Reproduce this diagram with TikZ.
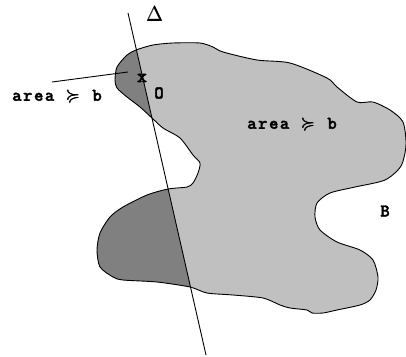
\documentclass[tikz,border=0pt]{standalone}
\usepackage{amsmath, amssymb}
\usepackage{fontspec}
\usepackage{xcolor}
\newfontfamily\labelfont[Extension=.otf, LetterSpace=8, FakeBold=2]{lmmonolt10-bold}
\usetikzlibrary{calc}
\definecolor{blobgray}{HTML}{C0C0C0}
\definecolor{cutgray}{HTML}{808080}
\newcommand{\geqsym}{\makebox[0.9em]{\pmb{$\succcurlyeq$}}}

\begin{document}
\begin{tikzpicture}[x=1pt, y=-1pt,
    every node/.style={font=\labelfont\fontsize{18}{18}\selectfont, inner sep=1pt},
    outline/.style={line width=0.9pt, line join=round}]
        \useasboundingbox (0,0) rectangle (406,356);
        % The region, traced clockwise from where the line meets its top edge
        \def\blob{plot[smooth cycle, tension=0.45] coordinates {
          (136,50) (153,45) (173,43) (200,43) (213,47) (223,52) (257,60) (290,63)
          (327,78) (337,87) (357,102) (373,102) (390,110) (403,122) (406,145)
          (401,166) (385,180) (355,187) (330,193) (317,203) (315,217) (320,230)
          (337,242) (360,250) (373,260) (378,277) (376,290) (370,300) (360,305)
          (337,310) (323,313) (312,313) (307,310) (290,308) (280,305) (263,298)
          (233,295) (207,293) (190,287) (157,282) (123,280) (113,277) (100,267)
          (97,250) (100,233) (110,217) (123,207) (147,195) (168,189) (187,187)
          (193,183) (198,173) (200,163) (193,155) (180,138) (163,128) (152,118)
          (140,107) (127,97) (117,88) (115,80) (117,67) (127,55)}}
        \fill[blobgray] \blob;
        % Part cut off on the left of the line
        \begin{scope}
          \clip (102,-100) -- (230,460) -- (-100,460) -- (-100,-100) -- cycle;
          \fill[cutgray] \blob;
        \end{scope}
        \draw[outline] \blob;
        % The line Delta
        \coordinate (lntop) at (128,13);
        \coordinate (lnbot) at (206,355);
        \draw[line width=0.9pt] (lntop) -- (lnbot);
        \node[font=\fontsize{20}{20}\selectfont] (delta) at (155,14) {\pmb{$\Delta$}};
        % Point O and its label
        \node[font=\labelfont\fontsize{19}{19}\selectfont] (mark) at (142,78) {x};
        \node (orig) at (159,93) {O};
        \node (leftlbl) at (57,96) {area \geqsym{} b};
        \coordinate (ptrstart) at (52,82);
        \coordinate (ptrend) at (128,72);
        \draw[line width=0.9pt] (ptrstart) -- (ptrend);
        % Labels inside and outside the region
        \node (rightlbl) at (292,124) {area \geqsym{} b};
        \node (blbl) at (385,211) {B};
      \end{tikzpicture}
\end{document}
